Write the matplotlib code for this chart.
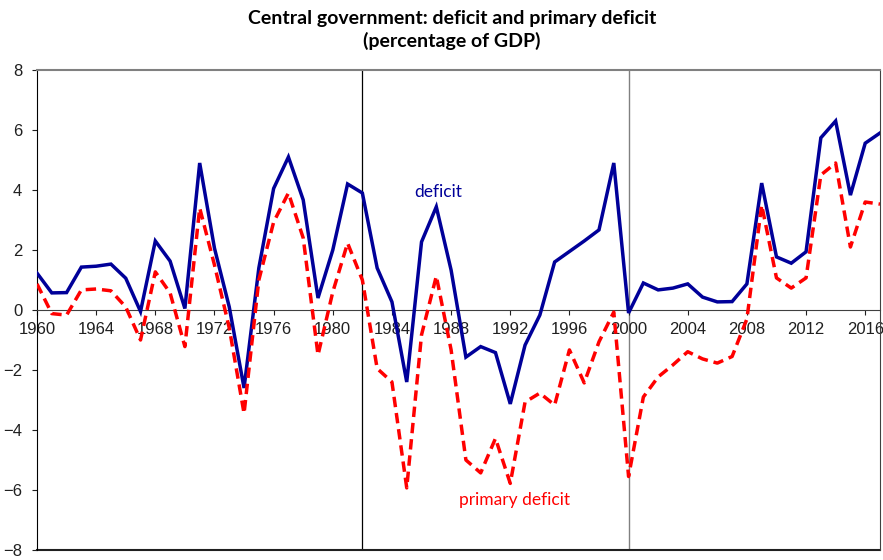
import matplotlib
matplotlib.use("Agg")
import matplotlib.pyplot as plt

years = list(range(1960, 2018))
deficit = [1.23, 0.57, 0.58, 1.43, 1.46, 1.53, 1.06, -0.05, 2.3, 1.63,
           0.05, 4.9, 2.06, 0.1, -2.6, 1.4, 4.05, 5.1, 3.67, 0.4,
           2.0, 4.2, 3.9, 1.4, 0.27, -2.4, 2.27, 3.44, 1.33, -1.57,
           -1.22, -1.42, -3.13, -1.17, -0.17, 1.6, 1.95, 2.3, 2.67, 4.9,
           -0.1, 0.9, 0.67, 0.73, 0.87, 0.43, 0.27, 0.28, 0.87, 4.23,
           1.77, 1.56, 1.94, 5.74, 6.3, 3.83, 5.56, 5.9]
primary = [0.87, -0.12, -0.17, 0.67, 0.7, 0.64, 0.1, -1.0, 1.27, 0.57,
           -1.22, 3.4, 1.5, -0.6, -3.45, 1.0, 2.93, 3.9, 2.4, -1.5,
           0.6, 2.23, 1.0, -1.95, -2.4, -5.93, -0.83, 1.13, -1.33, -5.0,
           -5.43, -4.28, -5.78, -3.07, -2.77, -3.17, -1.33, -2.43, -1.06, -0.07,
           -5.55, -2.9, -2.23, -1.83, -1.39, -1.63, -1.77, -1.55, -0.3, 3.5,
           1.07, 0.73, 1.07, 4.5, 4.9, 2.1, 3.6, 3.53]
xticks = list(range(1960, 2017, 4))
yticks = [-8, -6, -4, -2, 0, 2, 4, 6, 8]
title = "Central government: deficit and primary deficit\n(percentage of GDP)"

fig = plt.figure(figsize=(8.83, 5.6), dpi=100)
ax = fig.add_axes([37/883, 10/560, (880-37)/883, (550-70)/560])

ax.plot(years, deficit, color="#000099", lw=2.5, solid_joinstyle="miter", zorder=3)
ax.plot(years, primary, color="#FF0000", lw=2.5, dashes=(3.0, 1.7), zorder=3)

ax.axvline(1982, color="black", lw=0.9, zorder=1)
ax.axvline(2000, color="#808080", lw=1.0, zorder=1)

ax.set_xlim(1960, 2017)
ax.set_ylim(-8, 8)
ax.set_yticks(yticks)
ax.set_xticks(xticks)
ax.set_xticklabels([str(x) for x in xticks])

ax.spines["bottom"].set_position(("data", 0))
ax.spines["bottom"].set_color("#404040")
ax.spines["top"].set_color("#808080")
ax.spines["top"].set_linewidth(1.5)
ax.spines["right"].set_color("#404040")
ax.spines["left"].set_color("black")
ax.axhline(-8, color="#202020", lw=1.5, clip_on=False)

for lab in ax.get_xticklabels() + ax.get_yticklabels():
    lab.set_fontfamily("Liberation Sans")
    lab.set_fontsize(12)
ax.tick_params(axis="x", direction="out", length=3.6, width=0.8, pad=5, colors="#202020")
ax.tick_params(axis="y", direction="out", length=3.6, width=0.8, pad=7, colors="#202020")

ax.text(1987.1, 3.93, "deficit", color="#000099", fontsize=12.5, family="Lato",
        ha="center", va="center")
ax.text(1992.3, -6.33, "primary deficit", color="#FF0000", fontsize=12.5, family="Lato",
        ha="center", va="center")

fig.text(452/883, 1 - 30/560, title, ha="center", va="center", fontsize=14,
         family="Lato", weight="bold", linespacing=1.3)

fig.savefig("out.png", dpi=100)
